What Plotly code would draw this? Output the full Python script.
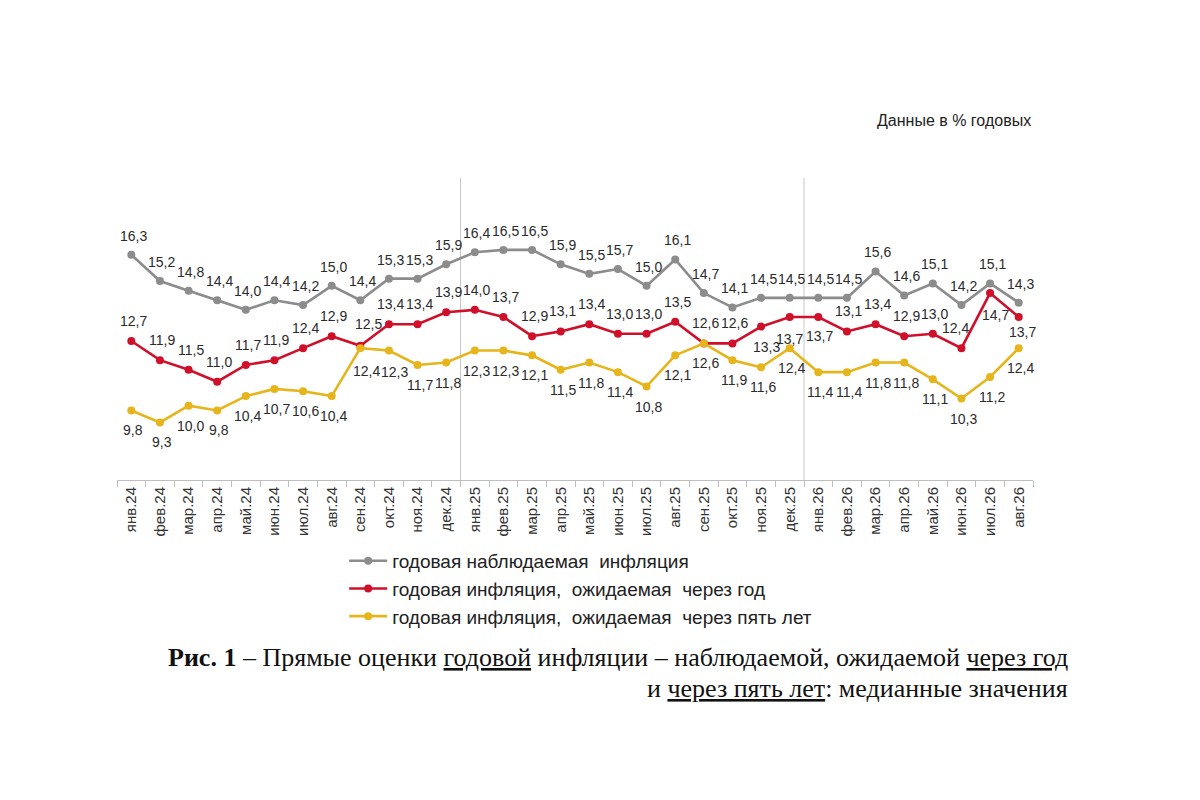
import plotly.graph_objects as go

# ------------------------------------------------------------
# Данные: медианные оценки инфляции, % годовых
# ------------------------------------------------------------
months = ['янв.24', 'фев.24', 'мар.24', 'апр.24', 'май.24', 'июн.24', 'июл.24', 'авг.24',
          'сен.24', 'окт.24', 'ноя.24', 'дек.24',
          'янв.25', 'фев.25', 'мар.25', 'апр.25', 'май.25', 'июн.25', 'июл.25', 'авг.25',
          'сен.25', 'окт.25', 'ноя.25', 'дек.25',
          'янв.26', 'фев.26', 'мар.26', 'апр.26', 'май.26', 'июн.26', 'июл.26', 'авг.26']

observed = [16.3, 15.2, 14.8, 14.4, 14.0, 14.4, 14.2, 15.0, 14.4, 15.3, 15.3, 15.9,
            16.4, 16.5, 16.5, 15.9, 15.5, 15.7, 15.0, 16.1, 14.7, 14.1, 14.5, 14.5,
            14.5, 14.5, 15.6, 14.6, 15.1, 14.2, 15.1, 14.3]

one_year = [12.7, 11.9, 11.5, 11.0, 11.7, 11.9, 12.4, 12.9, 12.5, 13.4, 13.4, 13.9,
            14.0, 13.7, 12.9, 13.1, 13.4, 13.0, 13.0, 13.5, 12.6, 12.6, 13.3, 13.7,
            13.7, 13.1, 13.4, 12.9, 13.0, 12.4, 14.7, 13.7]

five_years = [9.8, 9.3, 10.0, 9.8, 10.4, 10.7, 10.6, 10.4, 12.4, 12.3, 11.7, 11.8,
              12.3, 12.3, 12.1, 11.5, 11.8, 11.4, 10.8, 12.1, 12.6, 11.9, 11.6, 12.4,
              11.4, 11.4, 11.8, 11.8, 11.1, 10.3, 11.2, 12.4]

series_names = ['годовая наблюдаемая  инфляция',
                'годовая инфляция,  ожидаемая  через год',
                'годовая инфляция,  ожидаемая  через пять лет']

colors = ['#8c8c8c', '#d0102a', '#e6b51c']


def fmt(v):
    return f"{v:.1f}".replace('.', ',')


font_main = 'Arial, Liberation Sans, sans-serif'
label_font = dict(family=font_main, size=14, color='#2b2b2b')

fig = go.Figure()

for name, vals, col in zip(series_names, [observed, one_year, five_years], colors):
    fig.add_trace(go.Scatter(
        x=months, y=vals, name=name, mode='lines+markers',
        line=dict(color=col, width=2.6), marker=dict(size=8, color=col),
        cliponaxis=False, hoverinfo='x+y'
    ))

# подписи значений: серые сверху, жёлтые снизу, красные в основном сверху
red_shift = {8: (8, 22), 22: (5, -20), 23: (0, -22), 24: (1, -19), 29: (-6, 20),
             30: (5, -22), 31: (4, -15)}
yellow_shift = {8: (6, -23), 9: (6, -21)}

for i, m in enumerate(months):
    fig.add_annotation(x=m, y=observed[i], text=fmt(observed[i]), showarrow=False,
                       xshift=2, yshift=19, font=label_font)
    dx, dy = red_shift.get(i, (2, 20))
    fig.add_annotation(x=m, y=one_year[i], text=fmt(one_year[i]), showarrow=False,
                       xshift=dx, yshift=dy, font=label_font)
    dx, dy = yellow_shift.get(i, (2, -20))
    fig.add_annotation(x=m, y=five_years[i], text=fmt(five_years[i]), showarrow=False,
                       xshift=dx, yshift=dy, font=label_font)

# вертикальные разделители годов
for xpos in (11.5, 23.5):
    fig.add_shape(type='line', xref='x', yref='paper', x0=xpos, x1=xpos, y0=0, y1=1,
                  line=dict(color='#c8c8c8', width=1), layer='below')

# подпись единиц и название рисунка
fig.add_annotation(text='Данные в % годовых', xref='paper', yref='paper',
                   x=1.0, y=1.192, xanchor='right', yanchor='middle', showarrow=False,
                   font=dict(family=font_main, size=16, color='#222222'))

caption_font = dict(family='Liberation Serif, Times New Roman, serif', size=26, color='#111111')
caption_lines = [
    '<b>Рис. 1</b> – Прямые оценки <u>годовой</u> инфляции – наблюдаемой, ожидаемой <u>через год</u>',
    'и <u>через пять лет</u>: медианные значения',
]
for line, ypos in zip(caption_lines, (-0.589, -0.689)):
    fig.add_annotation(text=line, xref='paper', yref='paper', x=1.04, y=ypos,
                       xanchor='right', yanchor='middle', showarrow=False, font=caption_font)

fig.update_layout(
    width=1200, height=800,
    margin=dict(l=109, r=175, t=170, b=328),
    paper_bgcolor='white', plot_bgcolor='white',
    showlegend=True,
    legend=dict(x=0.248, y=-0.205, xanchor='left', yanchor='top',
                font=dict(family=font_main, size=19, color='#222222'),
                bgcolor='rgba(0,0,0,0)', tracegroupgap=0, itemwidth=38),
    xaxis=dict(
        type='category', range=[-0.5, 31.5], tickangle=-90, tickson='boundaries',
        ticks='outside', ticklen=6, tickcolor='#bfbfbf',
        showline=True, linecolor='#bfbfbf', linewidth=1, showgrid=False,
        tickfont=dict(family=font_main, size=15, color='#333333')
    ),
    yaxis=dict(range=[6.9, 19.5], visible=False, showgrid=False, zeroline=False)
)

fig.write_html("out.html")
